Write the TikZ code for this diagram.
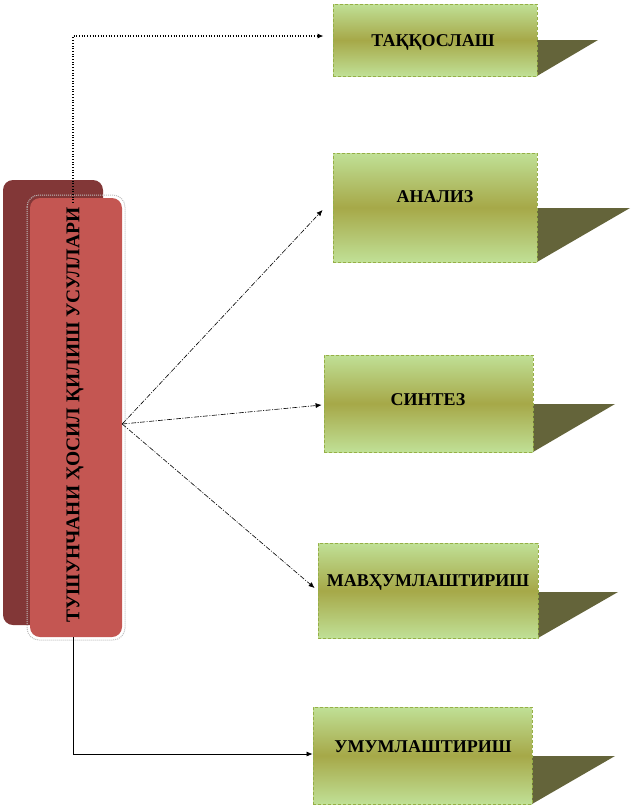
\documentclass[tikz,border=0pt]{standalone}
\usepackage{fontspec}
\setmainfont{Liberation Serif}
\usetikzlibrary{arrows.meta,calc}
\definecolor{redfill}{RGB}{196,86,82}
\definecolor{redshadow}{RGB}{130,55,55}
\definecolor{boxlight}{RGB}{192,224,150}
\definecolor{boxmid}{RGB}{166,168,72}
\definecolor{boxedge}{RGB}{150,175,70}
\definecolor{boxshadow}{RGB}{100,100,58}
\tikzset{
  mbox/.style={rectangle, draw=boxedge, densely dashed, line width=0.8pt,
    top color=boxlight, bottom color=boxlight, middle color=boxmid,
    inner sep=0pt},
  mlabel/.style={font=\fontsize{18}{20}\selectfont\bfseries, inner sep=0pt},
  bshadow/.style={fill=boxshadow, draw=none},
  conn/.style={line width=0.7pt, -{Latex[length=6pt,width=5pt]}},
  fan/.style={conn, line width=0.6pt, dash pattern=on 5pt off 1.5pt on 1pt off 1.5pt},
}
\begin{document}
\begin{tikzpicture}[x=1pt,y=-1pt]
\useasboundingbox (0,0) rectangle (633,807);
% main shadow
\fill[redshadow, rounded corners=10pt] (3,180) rectangle (103,625);
% gray dotted outline
\draw[gray!50, densely dotted, line width=1pt, rounded corners=12pt] (27,195) rectangle (125,640);
% main box
\node[draw=none, fill=redfill, rounded corners=10pt, minimum width=92pt, minimum height=439pt, inner sep=0pt] (main) at (76,417.5) {};
\node[rotate=90, font=\fontsize{19.5}{22}\selectfont\bfseries, inner sep=0pt] (mtext) at (75,415) {ТУШУНЧАНИ ҲОСИЛ ҚИЛИШ УСУЛЛАРИ};

% shadow triangles
\fill[bshadow] (537,40) -- (598,40) -- (537,76) -- cycle;
\fill[bshadow] (537,208) -- (630,208) -- (537,262) -- cycle;
\fill[bshadow] (533,404) -- (615,404) -- (533,452) -- cycle;
\fill[bshadow] (538,592) -- (618,592) -- (538,638) -- cycle;
\fill[bshadow] (532,756) -- (615,756) -- (532,804) -- cycle;

% boxes
\node[mbox, minimum width=204pt, minimum height=72pt] (tak) at (435,40) {};
\node[mbox, minimum width=204pt, minimum height=109pt] (anal) at (435,207.5) {};
\node[mbox, minimum width=209pt, minimum height=97pt] (sint) at (428.5,403.5) {};
\node[mbox, minimum width=220pt, minimum height=95pt] (mavh) at (428,590.5) {};
\node[mbox, minimum width=219pt, minimum height=97pt] (umum) at (422.5,755.5) {};

\node[mlabel] (taktxt) at (433,42) {ТАҚҚОСЛАШ};
\node[mlabel] (analtxt) at (435,197) {АНАЛИЗ};
\node[mlabel] (sinttxt) at (428,400) {СИНТЕЗ};
\node[mlabel] (mavhtxt) at (428,582) {МАВҲУМЛАШТИРИШ};
\node[mlabel] (umumtxt) at (423,747) {УМУМЛАШТИРИШ};

% connectors
\coordinate (topstart) at ($(main.north)+(-3,5)$);
\coordinate (fan) at ($(main.east)+(0,6.5)$);
\coordinate (botstart) at ($(main.south)+(-3,0)$);
\draw[conn, dotted, line width=1.3pt] (topstart) |- ($(tak.west)+(-9,-4)$);
\draw[fan] (fan) -- ($(anal.west)+(-10,2.5)$);
\draw[fan] (fan) -- ($(sint.west)+(-2,1.5)$);
\draw[fan] (fan) -- ($(mavh.west)+(-3,-2.5)$);
\draw[conn] (botstart) |- ($(umum.west)+(0,-1.5)$);
\end{tikzpicture}
\end{document}
